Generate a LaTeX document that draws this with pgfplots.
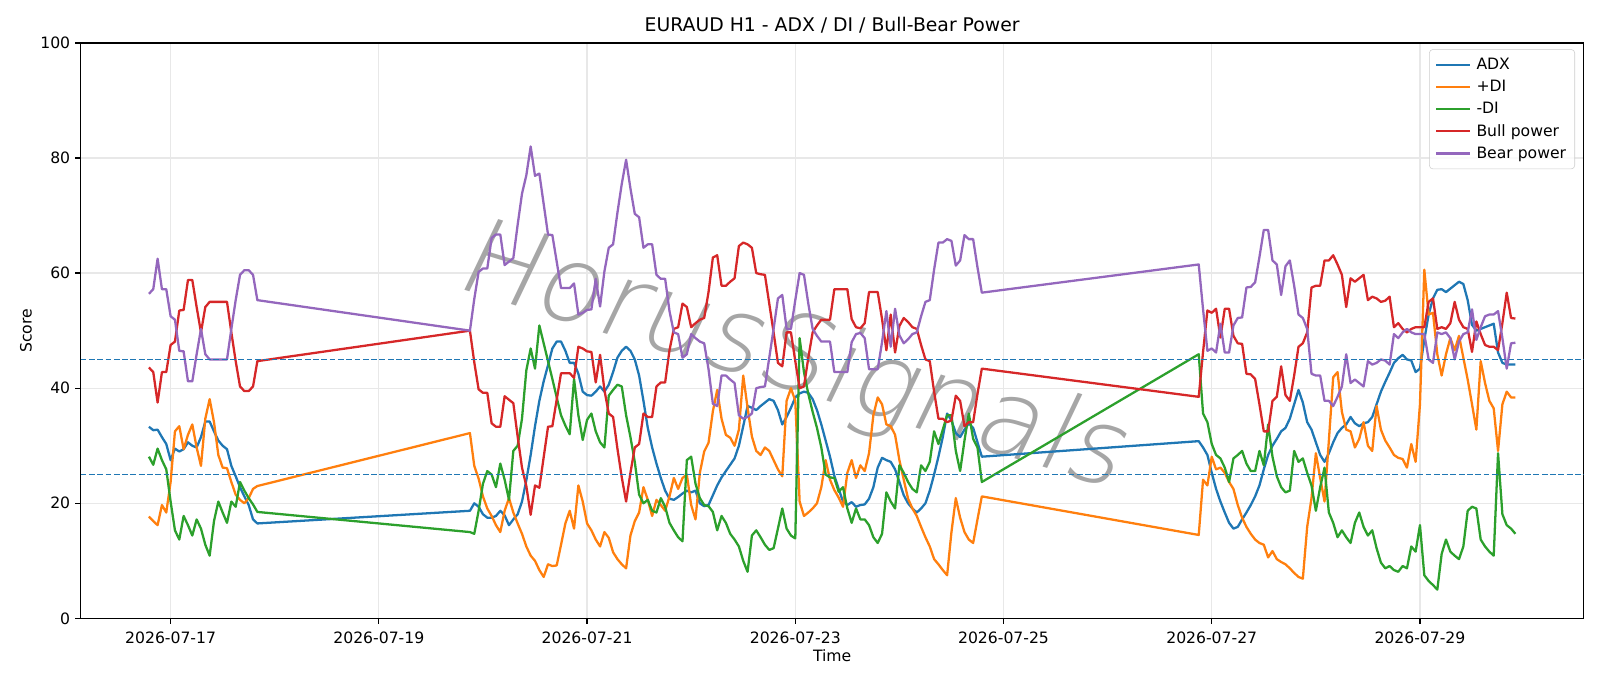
\documentclass[border=0pt]{standalone}
\usepackage{fontspec}
\usepackage{graphicx}
\setmainfont{DejaVu Sans}
\newcommand\wmcolor{black!20}
\IfFontExistsTF{DejaVu Sans Light}{\newfontfamily\wmfont{DejaVu Sans Light}[FakeSlant=0.15]\renewcommand\wmcolor{black!35}}{%
 \IfFontExistsTF{DejaVuSans-ExtraLight.ttf}{\newfontfamily\wmfont{DejaVuSans-ExtraLight.ttf}[FakeSlant=0.15]\renewcommand\wmcolor{black!35}}{%
  \newfontfamily\wmfont{DejaVu Sans}[FakeSlant=0.15]}}
\usepackage{pgfplots}
\pgfplotsset{compat=1.18}
\usepackage{pgfplotstable}
\definecolor{tabblue}{HTML}{1F77B4}
\definecolor{taborange}{HTML}{FF7F0E}
\definecolor{tabgreen}{HTML}{2CA02C}
\definecolor{tabred}{HTML}{D62728}
\definecolor{tabpurple}{HTML}{9467BD}
% h = hours after 2026-07-17 00:00
\pgfplotstableread{
h bear bull adx pdi mdi
-5 56.4 43.6 33.3 17.7 28.1
-4 57.2 42.8 32.7 16.9 26.7
-3 62.5 37.5 32.8 16.2 29.5
-2 57.2 42.8 31.5 19.7 27.5
-1 57.2 42.8 30.3 18.4 25.9
0 52.5 47.5 27.5 23.7 20.3
1 51.9 48.1 29.5 32.5 15.3
2 46.5 53.5 29.0 33.4 13.7
3 46.4 53.6 29.4 29.4 17.8
4 41.2 58.8 30.6 31.9 16.2
5 41.2 58.8 30.0 33.7 14.4
6 45.9 54.1 29.7 29.7 17.2
7 50.3 49.7 31.5 26.5 15.6
8 45.9 54.1 34.2 34.7 12.8
9 45.0 55.0 34.2 38.1 10.9
10 45.0 55.0 32.5 34.1 16.9
11 45.0 55.0 30.9 28.4 20.3
12 45.0 55.0 30.0 26.2 18.4
13 45.0 55.0 29.4 26.1 16.6
14 50.3 49.7 26.5 23.7 20.3
15 55.3 44.7 24.7 21.5 19.4
16 59.7 40.3 22.8 20.6 23.7
17 60.5 39.5 21.2 20.0 22.2
18 60.5 39.5 19.7 20.9 20.9
19 59.7 40.3 17.2 22.5 19.8
20 55.3 44.7 16.5 23.0 18.5
69 50.0 50.0 18.7 32.2 15.0
70 55.5 44.5 20.0 26.5 14.7
71 60.2 39.8 19.4 24.3 18.7
72 60.8 39.2 18.1 21.2 23.4
73 60.8 39.2 17.5 19.1 25.6
74 66.1 33.9 17.5 17.8 25.0
75 66.7 33.3 17.8 16.2 22.8
76 66.7 33.3 18.7 15.0 26.9
77 61.4 38.6 17.9 18.7 24.1
78 62.0 38.0 16.2 20.9 20.6
79 62.6 37.4 17.2 18.4 29.1
80 68.4 31.6 18.1 16.5 30.0
81 73.8 26.2 20.3 14.7 34.7
82 77.0 23.0 24.0 12.5 43.1
83 82.0 18.0 28.4 10.9 46.9
84 76.9 23.1 33.4 10.0 43.4
85 77.3 22.7 37.8 8.4 50.9
86 72.0 28.0 41.2 7.2 47.8
87 66.7 33.3 44.0 9.4 44.7
88 66.6 33.4 46.9 9.1 41.6
89 62.0 38.0 48.1 9.2 38.4
90 57.4 42.6 48.1 12.8 35.3
91 57.4 42.6 46.5 16.5 33.5
92 57.4 42.6 44.4 18.7 32.0
93 58.2 41.8 44.4 15.6 41.6
94 52.8 47.2 42.5 23.1 35.3
95 53.1 46.9 39.4 20.3 31.0
96 53.6 46.4 38.8 16.5 34.5
97 53.7 46.3 38.7 15.3 35.6
98 59.0 41.0 39.4 13.7 32.5
99 54.2 45.8 40.3 12.5 30.6
100 60.3 39.7 39.4 15.0 29.7
101 64.4 35.6 40.6 14.0 38.7
102 65.0 35.0 42.8 11.5 39.7
103 70.5 29.5 45.3 10.3 40.6
104 75.5 24.5 46.5 9.4 40.3
105 79.7 20.3 47.2 8.7 35.3
106 74.7 25.3 46.5 14.4 31.5
107 70.3 29.7 45.0 16.9 27.2
108 69.7 30.3 42.2 18.4 21.5
109 64.4 35.6 37.8 22.8 20.0
110 65.0 35.0 33.1 20.6 20.6
111 65.0 35.0 29.7 17.8 18.7
112 59.7 40.3 26.9 20.6 18.4
113 59.0 41.0 24.4 19.7 20.9
114 59.0 41.0 22.2 18.7 19.4
115 53.4 46.6 20.8 21.2 16.6
116 49.7 50.3 20.6 24.4 15.3
117 49.4 50.6 21.1 22.5 14.1
118 45.3 54.7 21.7 24.4 13.4
119 45.9 54.1 22.2 25.0 27.5
120 49.4 50.6 21.9 19.7 28.1
121 48.7 51.3 22.2 17.2 23.4
122 48.1 51.9 20.0 25.3 20.9
123 47.8 52.2 19.5 29.0 19.7
124 43.3 56.7 19.7 30.5 19.5
125 37.3 62.7 21.4 36.0 18.5
126 36.9 63.1 23.1 39.7 15.3
127 42.2 57.8 24.5 34.7 17.8
128 42.2 57.8 25.6 31.9 16.6
129 41.5 58.5 26.7 31.4 14.7
130 40.9 59.1 27.8 30.0 13.7
131 35.3 64.7 30.0 32.8 12.5
132 34.7 65.3 33.4 42.2 10.0
133 35.0 65.0 36.9 36.6 8.1
134 35.6 64.4 36.6 31.6 14.4
135 40.0 60.0 36.2 29.1 15.3
136 40.2 59.8 36.9 28.4 14.1
137 40.3 59.7 37.5 29.7 12.8
138 45.3 54.7 38.1 29.1 11.9
139 50.3 49.7 37.8 27.5 12.2
140 55.6 44.4 36.2 25.9 15.6
141 56.2 43.8 33.7 24.7 19.1
142 50.3 49.7 35.0 37.8 15.6
143 50.3 49.7 36.6 40.0 14.4
144 55.3 44.7 38.4 37.8 13.9
145 60.0 40.0 39.1 20.3 48.7
146 59.7 40.3 39.4 17.8 42.8
147 54.7 45.3 39.2 18.4 39.0
148 50.3 49.7 38.1 19.1 35.9
149 49.1 50.9 36.2 20.0 33.1
150 48.1 51.9 33.7 22.8 29.7
151 48.1 51.9 30.9 27.5 25.0
152 48.1 51.9 28.1 24.1 24.5
153 42.8 57.2 24.8 22.3 24.4
154 42.8 57.2 22.5 21.0 22.0
155 42.8 57.2 20.3 19.4 22.8
156 42.8 57.2 19.7 25.3 19.1
157 48.0 52.0 20.2 27.5 16.6
158 49.4 50.6 19.4 24.4 19.1
159 49.6 50.4 19.7 26.6 17.2
160 48.7 51.3 19.8 25.6 17.2
161 43.3 56.7 20.8 28.7 16.2
162 43.3 56.7 22.8 35.3 14.1
163 43.3 56.7 26.2 38.4 13.1
164 48.0 52.0 27.9 37.2 14.7
165 53.4 46.6 27.5 33.7 21.9
166 47.2 52.8 27.2 33.4 20.3
167 53.8 46.2 25.9 31.9 19.1
168 49.2 50.8 23.7 27.5 26.6
169 47.8 52.2 21.4 24.1 25.3
170 48.5 51.5 20.0 20.8 23.7
171 49.4 50.6 19.1 19.1 22.5
172 49.7 50.3 18.4 17.8 21.9
173 52.5 47.5 19.1 15.9 26.6
174 55.0 45.0 20.0 14.1 25.6
175 55.3 44.7 22.2 12.5 27.2
176 60.6 39.4 25.0 10.3 32.5
177 65.3 34.7 28.1 9.4 30.3
178 65.3 34.7 31.5 8.4 32.8
179 65.9 34.1 35.6 7.5 35.3
180 65.6 34.4 34.4 15.0 35.3
181 61.3 38.7 32.2 20.9 29.1
182 62.2 37.8 31.5 17.5 25.6
183 66.6 33.4 32.8 15.0 30.9
184 65.9 34.1 33.9 13.7 35.6
185 65.9 34.1 33.1 13.1 31.2
186 61.0 39.0 30.6 17.2 29.7
187 56.6 43.4 28.1 21.2 23.7
237 61.5 38.5 30.8 14.5 45.9
238 53.7 46.3 29.7 24.1 35.6
239 46.5 53.5 28.4 23.1 34.1
240 46.9 53.1 25.3 28.1 30.3
241 46.2 53.8 22.5 25.9 28.4
242 51.2 48.8 20.3 26.2 27.8
243 46.2 53.8 18.4 25.3 26.2
244 46.2 53.8 16.6 23.7 23.7
245 50.9 49.1 15.6 22.5 27.8
246 52.2 47.8 15.9 19.7 28.4
247 52.3 47.7 17.2 17.5 29.1
248 57.5 42.5 18.4 15.9 26.9
249 57.6 42.4 19.7 14.7 25.6
250 58.4 41.6 21.2 13.7 25.6
251 62.8 37.2 23.1 13.1 29.1
252 67.5 32.5 25.9 12.8 26.6
253 67.5 32.5 28.4 10.6 33.7
254 62.2 37.8 30.0 11.7 28.1
255 61.5 38.5 31.2 10.3 24.7
256 56.2 43.8 32.5 9.8 22.8
257 61.2 38.8 33.1 9.4 21.9
258 62.2 37.8 34.7 8.7 22.2
259 57.8 42.2 37.2 7.9 29.1
260 52.8 47.2 39.7 7.2 27.2
261 52.2 47.8 37.5 6.9 27.8
262 50.3 49.7 34.1 15.9 25.3
263 42.5 57.5 32.8 20.9 23.1
264 42.2 57.8 30.6 28.7 18.7
265 42.2 57.8 28.4 24.4 22.8
266 37.8 62.2 27.2 20.3 26.2
267 37.8 62.2 28.7 30.9 18.4
268 36.9 63.1 30.6 41.9 16.6
269 38.5 61.5 32.2 42.8 14.1
270 40.3 59.7 33.1 35.9 15.3
271 45.9 54.1 33.7 32.8 14.1
272 40.9 59.1 35.0 32.5 13.1
273 41.5 58.5 33.9 29.7 16.6
274 40.9 59.1 33.4 31.2 18.4
275 40.3 59.7 33.9 34.1 15.9
276 44.7 55.3 34.1 30.0 14.4
277 44.1 55.9 35.0 29.1 15.3
278 44.4 55.6 37.2 36.9 12.2
279 45.0 55.0 39.4 32.8 9.7
280 44.8 55.2 41.1 30.9 8.7
281 44.1 55.9 42.7 29.7 9.1
282 49.4 50.6 44.4 28.4 8.4
283 48.7 51.3 45.2 27.9 8.1
284 49.7 50.3 45.8 27.7 9.1
285 50.3 49.7 45.0 26.2 8.7
286 49.7 50.3 44.8 30.3 12.5
287 49.4 50.6 42.8 27.2 11.6
288 49.4 50.6 43.4 37.2 16.2
289 49.4 50.6 48.4 60.6 7.5
290 45.0 55.0 52.8 52.8 6.5
291 44.4 55.6 55.6 53.1 5.8
292 49.7 50.3 57.1 45.9 5.0
293 49.4 50.6 57.2 42.2 11.2
294 49.7 50.3 56.7 45.9 13.7
295 48.7 51.3 57.3 48.7 11.6
296 45.0 55.0 57.9 46.6 10.9
297 48.1 51.9 58.5 49.1 10.3
298 49.4 50.6 58.1 45.3 12.5
299 49.7 50.3 55.3 41.5 18.7
300 53.7 46.3 51.0 37.2 19.4
301 48.4 51.6 50.0 32.8 19.1
302 50.6 49.4 50.3 44.7 13.7
303 52.5 47.5 50.6 40.9 12.5
304 52.8 47.2 50.9 37.8 11.6
305 52.8 47.2 51.2 36.5 10.9
306 53.4 46.6 46.2 29.1 28.7
307 48.7 51.3 44.4 37.2 18.1
308 43.4 56.6 44.1 39.4 16.2
309 47.8 52.2 44.1 38.4 15.6
310 47.9 52.1 44.1 38.4 14.7
}\datatable

\begin{document}
\begin{tikzpicture}
\path[use as bounding box] (-0.806in,-0.676in) rectangle (15.194in,6.184in);
\begin{axis}[
  at={(0,0)}, anchor=south west, scale only axis,
  width=15.031in, height=5.755in,
  xmin=-20.75, xmax=325.75, ymin=0, ymax=100,
  xtick={0,48,96,144,192,240,288},
  xticklabels={2026-07-17,2026-07-19,2026-07-21,2026-07-23,2026-07-25,2026-07-27,2026-07-29},
  ytick={0,20,40,60,80,100},
  tick pos=left, tick align=outside, major tick length=4pt,
  tick style={black, line width=0.9pt},
  axis line style={black, line width=0.9pt},
  grid=major, grid style={black!9, line width=0.9pt},
  /pgf/number format/assume math mode=true,
  tick label style={font=\fontsize{11.3}{13.5}\selectfont},
  xticklabel style={yshift=-2.2pt},
  xlabel={Time}, ylabel={Score},
  xlabel style={font=\fontsize{11.3}{13.5}\selectfont, at={(axis description cs:0.5,0)}, anchor=center, yshift=-27pt},
  ylabel style={font=\fontsize{11.3}{13.5}\selectfont, at={(axis description cs:0,0.5)}, anchor=center, yshift=39.5pt},
  every axis title shift=0pt,
  title={EURAUD H1 - ADX / DI / Bull-Bear Power},
  title style={font=\fontsize{13.6}{16}\selectfont, at={(axis description cs:0.5,1)}, anchor=center, yshift=12.5pt},
  legend style={at={(1,1)}, anchor=north east, xshift=-6.3pt, yshift=-4.6pt,
    draw=black!20, rounded corners=2.5pt, fill=white, fill opacity=0.8, text opacity=1, draw opacity=1,
    font=\fontsize{11.3}{13.5}\selectfont, inner xsep=4.2pt, inner ysep=4.2pt, row sep=2.2pt,
    cells={anchor=west}},
  legend image code/.code={\draw[#1, line width=1.65pt] (0pt,0pt) -- (24.5pt,0pt); \path (26.2pt,0pt);},
  every axis plot/.append style={line width=1.65pt, line join=round},
]
\node[rotate=-17, text=\wmcolor, inner sep=0pt] at (axis cs:143,45) {\resizebox{6.9in}{!}{\wmfont HorusSignals}};
\addplot[tabblue] table[x=h, y=adx] {\datatable};
\addlegendentry{ADX}
\addplot[taborange] table[x=h, y=pdi] {\datatable};
\addlegendentry{+DI}
\addplot[tabgreen] table[x=h, y=mdi] {\datatable};
\addlegendentry{-DI}
\addplot[tabred] table[x=h, y=bull] {\datatable};
\addlegendentry{Bull power}
\addplot[tabpurple] table[x=h, y=bear] {\datatable};
\addlegendentry{Bear power}
\addplot[tabblue, dash pattern=on 4.2pt off 1.8pt, line width=1.1pt, forget plot] coordinates {(-20.75,25) (325.75,25)};
\addplot[tabblue, dash pattern=on 4.2pt off 1.8pt, line width=1.1pt, forget plot] coordinates {(-20.75,45) (325.75,45)};
\end{axis}
\end{tikzpicture}
\end{document}
